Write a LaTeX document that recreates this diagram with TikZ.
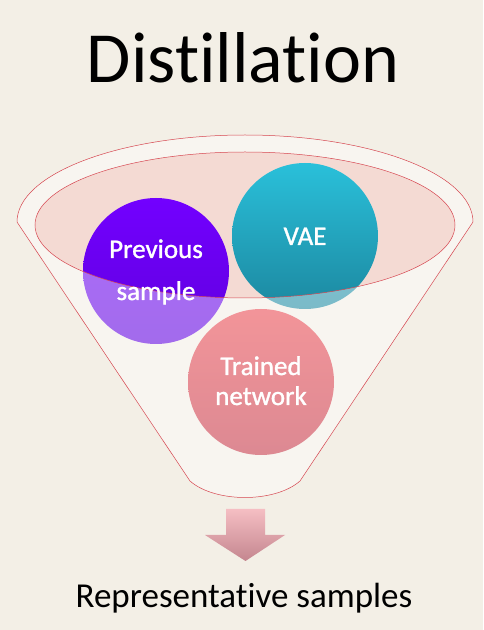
\documentclass[tikz,border=0pt]{standalone}
\usepackage{fontspec}
\setmainfont{Carlito}[Ligatures=NoCommon]
\newfontfamily\ballfont{Carlito}[Ligatures=NoCommon, FakeBold=1.2]
\definecolor{paper}{RGB}{243, 239, 230}
\definecolor{funnelred}{RGB}{214, 70, 80}
\definecolor{mouthpink}{RGB}{244, 218, 211}
\definecolor{prevtop}{RGB}{114, 0, 255}
\definecolor{prevbot}{RGB}{96, 0, 222}
\definecolor{vaetop}{RGB}{42, 192, 218}
\definecolor{vaebot}{RGB}{28, 136, 160}
\definecolor{traintop}{RGB}{234, 72, 80}
\definecolor{trainbot}{RGB}{196, 52, 68}
\definecolor{arrowtop}{RGB}{245, 190, 195}
\definecolor{arrowbot}{RGB}{196, 134, 143}
\usepackage{tikz}
\usetikzlibrary{positioning, calc}

\begin{document}
\begin{tikzpicture}[x=1pt, y=1pt,
    balltext/.style={text=white, align=center, anchor=base},
    headline/.style={text=black, anchor=base}]
  % Background
  \fill[paper] (0, 0) rectangle (483, 630);
  \useasboundingbox (0, 0) rectangle (483, 630);

  % Title
  \node[headline, font=\fontsize{72}{80}\selectfont] (title) at (243, 547) {Distillation};

  % Funnel mouth
  \fill[mouthpink] (245, 405) ellipse (210pt and 73pt);

  % Balls
  \shade[top color=prevtop, bottom color=prevbot] (156, 359) circle (73pt);
  \shade[top color=vaetop, bottom color=vaebot] (305, 394) circle (73pt);
  \shade[top color=traintop, bottom color=trainbot] (261, 248) circle (73pt);

  % Funnel body
  \fill[white, fill opacity=0.42, even odd rule]
    (17, 408) arc[start angle=180, end angle=0, x radius=228, y radius=87]
    -- (300, 149) .. controls (275, 127) and (215, 127) .. (190, 149) -- cycle
    (245, 405) ellipse (210pt and 73pt);
  \draw[funnelred, line width=0.5pt, line join=round]
    (17, 408) arc[start angle=180, end angle=0, x radius=228, y radius=87]
    -- (300, 149) .. controls (275, 127) and (215, 127) .. (190, 149) -- cycle;
  \draw[funnelred, line width=0.5pt] (245, 405) ellipse (210pt and 73pt);

  % Ball labels (base = last line)
  \node[balltext, font=\ballfont\fontsize{27}{42}\selectfont] (prev) at (156, 330) {Previous\\sample};
  \node[balltext, font=\ballfont\fontsize{27}{30}\selectfont] (vae) at (305, 385) {VAE};
  \node[balltext, font=\ballfont\fontsize{27}{30}\selectfont] (trained) at (261, 225) {Trained\\network};

  % Output arrow
  \shade[top color=arrowtop, bottom color=arrowbot]
    (226, 121) -- (265, 121) -- (265, 95) -- (285, 95) -- (245.5, 69)
    -- (205, 95) -- (226, 95) -- cycle;

  % Result
  \node[headline, font=\fontsize{35}{40}\selectfont] (result) at (244, 22) {Representative samples};
\end{tikzpicture}
\end{document}
